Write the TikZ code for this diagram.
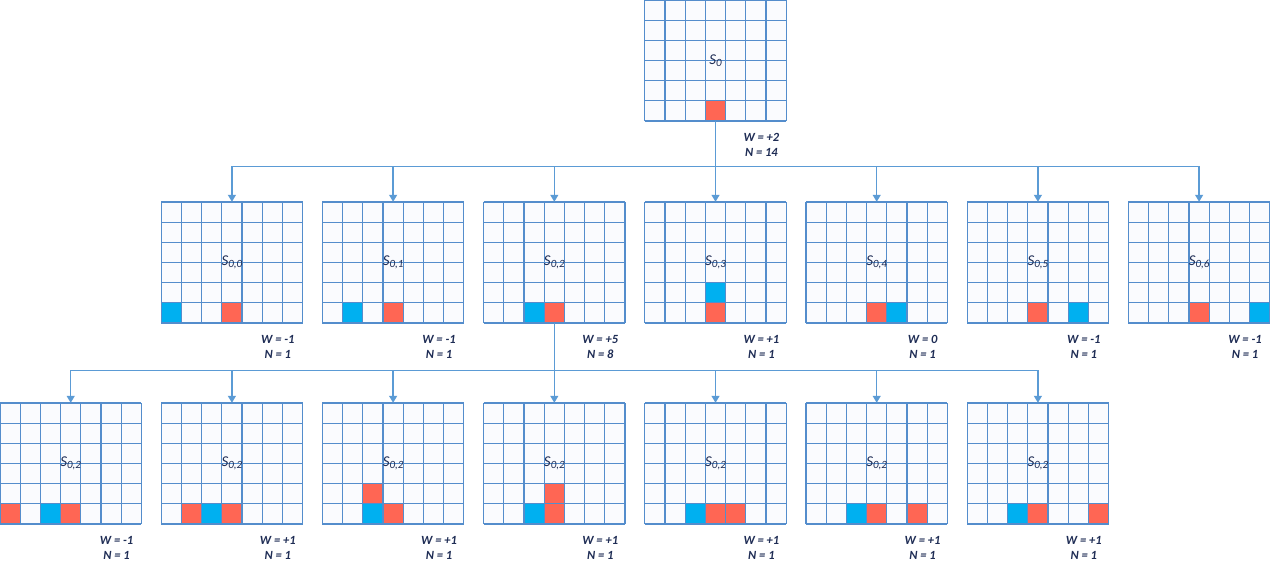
\documentclass[tikz,border=0pt]{standalone}
\usepackage{fontspec}
\setmainfont{Carlito}
\usetikzlibrary{arrows.meta}
\definecolor{gridblue}{RGB}{84,141,204}
\definecolor{linkblue}{RGB}{91,155,213}
\definecolor{redpiece}{RGB}{255,102,84}
\definecolor{bluepiece}{RGB}{0,176,240}
\definecolor{cellfill}{RGB}{250,251,254}
\definecolor{labelnavy}{RGB}{31,45,85}

\newcommand{\stsub}[1]{\raisebox{-0.25ex}{\fontsize{11}{11}\selectfont #1}}

\tikzset{
	boardbox/.style={minimum width=141.4pt, minimum height=121pt, inner sep=0pt, text=labelnavy, font=\fontsize{15}{17}\selectfont\itshape},
	score/.style={align=center, text=labelnavy, inner sep=0pt, font=\fontsize{12.5}{15}\selectfont\bfseries\itshape},
	link/.style={draw=linkblue, line width=1.3pt, -{Triangle[width=8pt,length=7pt]}}
}

\newcommand{\board}[7]{%
	\begin{scope}[shift={(#2,#3+121)}, x=20.2pt, y=20.17pt]
		\fill[cellfill] (0,0) rectangle (7,6);
		\foreach \c/\r/\k in {#5} {\fill[\k] (\c,\r) rectangle ++(1,1);}
		\draw[gridblue, line width=1.1pt, step=1] (0,0) grid (7,6);
		\node[boardbox] (#1) at (3.5,3) {#4};
	\end{scope}
	\node[score] (#1w) at ([shift={(-25pt,-23.5pt)}]#1.south east) {W = #6\\N = #7};
}

\begin{document}
\begin{tikzpicture}[x=1pt, y=-1pt]
	\useasboundingbox (0,0) rectangle (1273,578);

	\board{s0}{644.8}{0}{S\stsub{0}}{3/0/redpiece}{+2}{14}

	\board{s00}{161.2}{202}{S\stsub{0,0}}{0/0/bluepiece, 3/0/redpiece}{-1}{1}
	\board{s01}{322.4}{202}{S\stsub{0,1}}{1/0/bluepiece, 3/0/redpiece}{-1}{1}
	\board{s02}{483.6}{202}{S\stsub{0,2}}{2/0/bluepiece, 3/0/redpiece}{+5}{8}
	\board{s03}{644.8}{202}{S\stsub{0,3}}{3/0/redpiece, 3/1/bluepiece}{+1}{1}
	\board{s04}{806}{202}{S\stsub{0,4}}{3/0/redpiece, 4/0/bluepiece}{0}{1}
	\board{s05}{967.2}{202}{S\stsub{0,5}}{3/0/redpiece, 5/0/bluepiece}{-1}{1}
	\board{s06}{1128.4}{202}{S\stsub{0,6}}{3/0/redpiece, 6/0/bluepiece}{-1}{1}

	\board{s020}{0}{403}{S\stsub{0,2}}{0/0/redpiece, 2/0/bluepiece, 3/0/redpiece}{-1}{1}
	\board{s021}{161.2}{403}{S\stsub{0,2}}{1/0/redpiece, 2/0/bluepiece, 3/0/redpiece}{+1}{1}
	\board{s022}{322.4}{403}{S\stsub{0,2}}{2/0/bluepiece, 2/1/redpiece, 3/0/redpiece}{+1}{1}
	\board{s023}{483.6}{403}{S\stsub{0,2}}{2/0/bluepiece, 3/0/redpiece, 3/1/redpiece}{+1}{1}
	\board{s024}{644.8}{403}{S\stsub{0,2}}{2/0/bluepiece, 3/0/redpiece, 4/0/redpiece}{+1}{1}
	\board{s025}{806}{403}{S\stsub{0,2}}{2/0/bluepiece, 3/0/redpiece, 5/0/redpiece}{+1}{1}
	\board{s026}{967.2}{403}{S\stsub{0,2}}{2/0/bluepiece, 3/0/redpiece, 6/0/redpiece}{+1}{1}

	\foreach \k in {0,...,6} \draw[link] (s0.south) -- ++(0,45) -| (s0\k.north);
	\foreach \k in {0,...,6} \draw[link] (s02.south) -- ++(0,47) -| (s02\k.north);
\end{tikzpicture}
\end{document}
